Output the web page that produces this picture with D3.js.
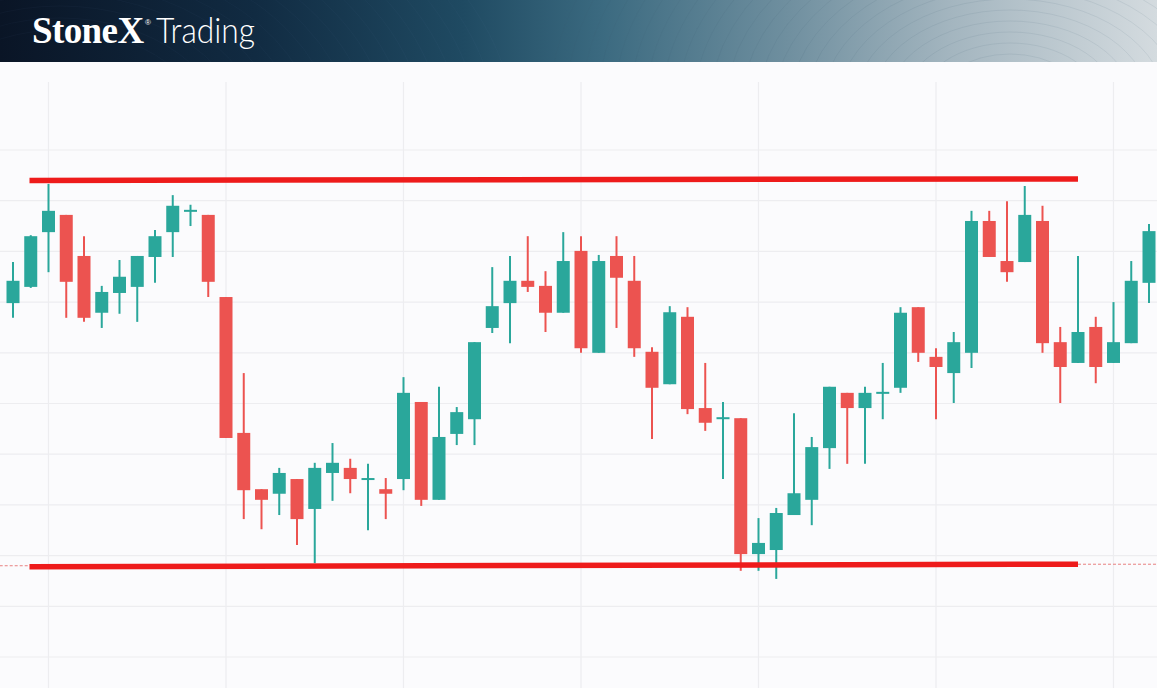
<!DOCTYPE html>
<html>
<head>
<meta charset="utf-8">
<script src="https://cdn.jsdelivr.net/npm/d3@7"></script>
<style>
  html, body { margin: 0; padding: 0; background: #fbfbfd; overflow: hidden; }
  svg { display: block; }
</style>
</head>
<body>
<svg id="chart" width="1157" height="688"></svg>
<script>
// ---------- DATA ----------
const brandName = "StoneX";
const brandMark = "®";
const brandSuffix = "Trading";

// candle index (sessions)
const sessions = [0,1,2,3,4,5,6,7,8,9,10,11,12,13,14,15,16,17,18,19,20,21,22,23,24,25,26,27,28,29,30,31,32,
  33,34,35,36,37,38,39,40,41,42,43,44,45,46,47,48,49,50,51,52,53,54,55,56,57,58,59,60,61,62,63,64];

const openVals = [169.8,173.0,183.8,187.2,179.1,167.9,171.8,173.0,178.9,183.8,187.9,187.2,171.0,144.2,133.1,132.2,
  135.1,129.2,136.3,137.3,134.9,133.1,135.1,150.3,131.0,144.0,146.9,164.9,169.8,174.2,173.2,167.9,180.1,160.0,
  179.1,174.2,160.2,153.8,167.1,149.1,146.9,147.1,120.3,121.1,128.0,131.0,141.2,152.1,149.1,151.9,153.1,169.0,
  159.2,156.0,160.0,186.0,178.1,177.9,186.0,162.1,158.0,165.1,158.0,161.9,173.8];
const highVals = [177.9,183.2,193.3,187.2,183.0,173.2,178.3,179.1,184.2,191.1,189.2,187.2,171.0,156.0,133.1,137.3,
  135.1,138.3,142.2,139.1,138.1,135.3,155.2,150.3,153.3,149.3,162.1,176.9,179.1,183.0,176.1,183.8,183.0,179.3,
  183.0,179.1,161.1,169.2,169.0,158.0,150.3,147.1,127.4,129.4,148.1,143.4,153.3,152.1,153.3,158.0,169.0,169.0,
  160.9,164.1,188.0,188.0,189.9,192.9,189.0,165.1,179.1,167.1,170.0,178.1,185.4];
const lowVals = [166.9,172.8,175.9,166.9,166.1,164.9,167.7,166.1,173.8,178.9,185.0,171.0,143.2,127.2,125.2,128.0,
  122.1,118.5,130.8,132.3,125.0,127.2,132.9,129.8,131.0,141.8,141.8,163.9,161.9,172.0,164.1,167.9,160.0,160.0,
  164.9,159.2,143.0,153.8,147.9,144.6,135.1,117.0,117.0,115.4,128.0,126.0,137.1,138.1,138.1,146.9,152.1,158.2,
  146.9,150.1,157.0,178.9,174.0,177.9,160.0,150.1,158.0,154.0,158.0,161.9,169.8];
const closeVals = [174.2,183.0,188.0,174.0,166.9,172.0,175.0,179.1,183.0,189.0,188.0,174.0,143.2,132.9,131.0,136.3,
  127.2,137.3,138.3,135.1,135.1,132.2,152.1,131.0,143.4,148.3,162.1,169.2,174.2,173.0,167.9,178.1,160.9,178.1,
  174.8,160.9,153.1,168.0,148.9,146.2,147.1,120.3,122.5,128.4,132.3,141.4,153.3,149.1,152.1,152.1,167.9,160.0,
  157.2,162.1,186.0,178.9,175.9,187.2,161.9,157.2,164.1,157.2,162.1,174.2,184.0];

// resistance / support lines: [startSession, startValue, endSession, endValue]
const resistanceLine = [0.93, 194.0, 60.0, 194.3];
const supportLine = [0.93, 117.8, 60.0, 118.3];
const supportExtLeft = [-0.75, 118.0, 0.93, 118.0];
const supportExtRight = [60.0, 118.3, 64.5, 118.3];

// grid ticks
const priceGridTicks = [100,110,120,130,140,150,160,170,180,190,200];
const sessionGridTicks = [2,12,22,32,42,52,62];

// ---------- DRAW ----------
const W = 1157, H = 688, headerH = 62;
const svg = d3.select("#chart");
const defs = svg.append("defs");

const x = d3.scaleLinear().domain([0, 64]).range([13, 1149]);
const y = d3.scaleLinear().domain([100, 200]).range([657, 150]);

// header gradient
const hg = defs.append("linearGradient").attr("id", "hdr").attr("x1", "0%").attr("x2", "100%");
[["0%", "#0a1526"], ["22%", "#112b42"], ["40%", "#1f4a62"], ["52%", "#3b6a80"], ["68%", "#6f8f9f"],
 ["82%", "#a3b5bf"], ["100%", "#d4dbdf"]].forEach(s => hg.append("stop").attr("offset", s[0]).attr("stop-color", s[1]));

defs.append("clipPath").attr("id", "hclip").append("rect").attr("width", W).attr("height", headerH);

svg.append("rect").attr("width", W).attr("height", H).attr("fill", "#fbfbfd");
svg.append("rect").attr("width", W).attr("height", headerH).attr("fill", "url(#hdr)");

// decorative contour lines in header
const deco = svg.append("g").attr("clip-path", "url(#hclip)").attr("fill", "none");
d3.range(0, 26).forEach(i => {
  deco.append("ellipse").attr("cx", 1010).attr("cy", 105).attr("rx", 60 + i * 16).attr("ry", 40 + i * 11)
    .attr("stroke", "rgba(60,90,110,0.17)").attr("stroke-width", 0.6);
});
d3.range(0, 18).forEach(i => {
  deco.append("ellipse").attr("cx", 60).attr("cy", 140).attr("rx", 150 + i * 18).attr("ry", 110 + i * 12)
    .attr("stroke", "rgba(120,150,175,0.08)").attr("stroke-width", 0.6);
});

// brand text
svg.append("text").attr("x", 32).attr("y", 43).attr("fill", "#ffffff")
  .attr("font-family", "'Liberation Serif', 'DejaVu Serif', serif").attr("font-weight", 700)
  .attr("font-size", 37).attr("letter-spacing", -0.6).text(brandName);
svg.append("text").attr("x", 145).attr("y", 25).attr("fill", "#ffffff").attr("font-size", 8)
  .attr("font-family", "Arial, sans-serif").text(brandMark);
svg.append("text").attr("x", 156).attr("y", 43).attr("fill", "#ffffff")
  .attr("font-family", "Lato, 'Open Sans', sans-serif").attr("font-weight", 300).attr("font-size", 35)
  .attr("textLength", 99).attr("lengthAdjust", "spacingAndGlyphs").text(brandSuffix);

// grid
const grid = svg.append("g");
grid.selectAll("line.h").data(priceGridTicks).join("line").attr("class", "h")
  .attr("x1", 0).attr("x2", W).attr("y1", d => y(d)).attr("y2", d => y(d))
  .attr("stroke", "#ededf0").attr("stroke-width", 1.2);
grid.selectAll("line.v").data(sessionGridTicks).join("line").attr("class", "v")
  .attr("x1", d => x(d)).attr("x2", d => x(d)).attr("y1", headerH + 20).attr("y2", H)
  .attr("stroke", "#ededf0").attr("stroke-width", 1.2);

// candles
const candles = sessions.map((s, i) => ({ s, o: openVals[i], h: highVals[i], l: lowVals[i], c: closeVals[i] }));
const UP = "#2aa79b", DOWN = "#ec5350";
const bodyW = 13;
const g = svg.append("g");
const cg = g.selectAll("g.candle").data(candles).join("g").attr("class", "candle");
cg.append("line")
  .attr("x1", d => x(d.s)).attr("x2", d => x(d.s))
  .attr("y1", d => y(d.h)).attr("y2", d => y(d.l))
  .attr("stroke", d => d.c >= d.o ? UP : DOWN).attr("stroke-width", 2);
cg.append("rect")
  .attr("x", d => x(d.s) - bodyW / 2)
  .attr("width", bodyW)
  .attr("y", d => Math.min(y(d.o), y(d.c)) - (Math.abs(y(d.o) - y(d.c)) < 2 ? 1 : 0))
  .attr("height", d => Math.max(2, Math.abs(y(d.o) - y(d.c))))
  .attr("fill", d => d.c >= d.o ? UP : DOWN);

// support / resistance
const RED = "#ee1b1b";
function seg(arr, w, dash, color) {
  svg.append("line")
    .attr("x1", x(arr[0])).attr("y1", y(arr[1])).attr("x2", x(arr[2])).attr("y2", y(arr[3]))
    .attr("stroke", color).attr("stroke-width", w).attr("stroke-dasharray", dash);
}
seg(supportExtLeft, 1, "3,2", "#e88080");
seg(supportExtRight, 1, "3,2", "#e88080");
seg(resistanceLine, 5.5, null, RED);
seg(supportLine, 5.5, null, RED);
</script>
</body>
</html>
